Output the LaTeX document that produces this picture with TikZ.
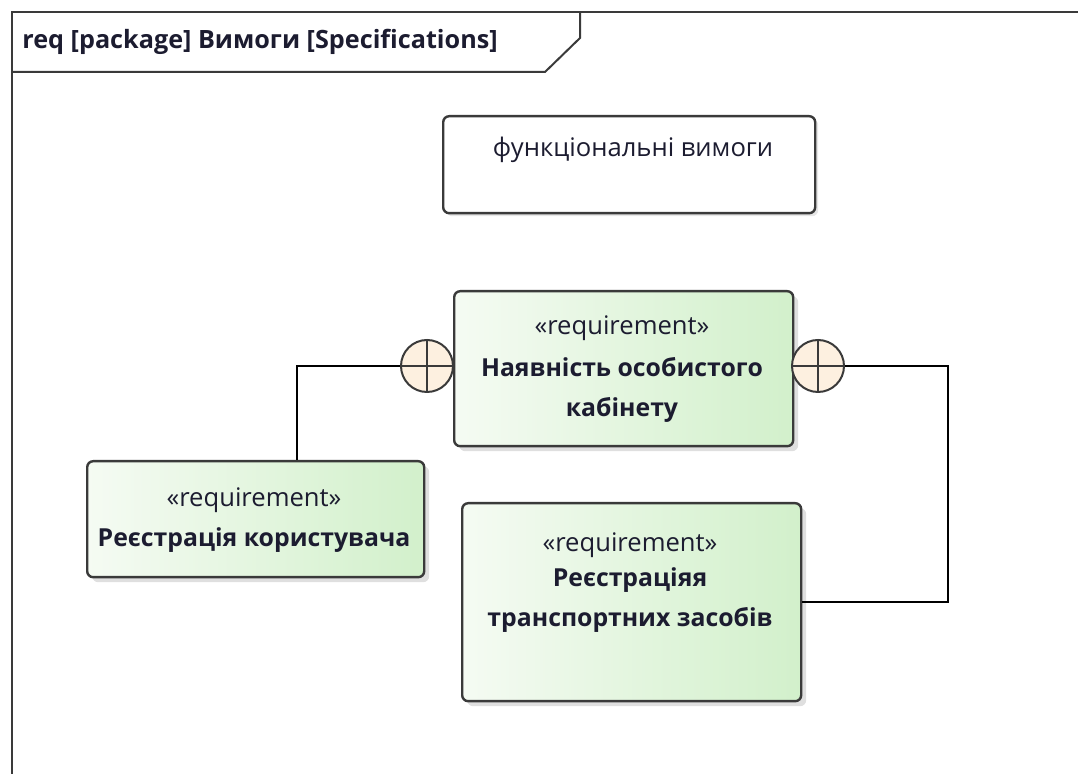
\documentclass[tikz,border=0pt]{standalone}
\usepackage{fontspec}
\setmainfont{Open Sans}
\usetikzlibrary{shadows,calc}
\definecolor{framecol}{HTML}{3A3A3A}
\definecolor{reqleft}{HTML}{F5FBF3}
\definecolor{reqright}{HTML}{D2F0CB}
\definecolor{circfill}{HTML}{FDF0E0}
\definecolor{txt}{HTML}{1C1C30}
\begin{document}
\begin{tikzpicture}[x=0.5pt,y=-0.5pt,
  frameline/.style={draw=framecol, line width=1pt},
  reqbox/.style={draw=framecol, line width=1.2pt, rounded corners=3pt,
    left color=reqleft, right color=reqright, shading angle=90,
    drop shadow={shadow xshift=2.5pt, shadow yshift=-2.5pt, opacity=0.25, fill=gray},
    anchor=north west, inner sep=0pt},
  plainbox/.style={draw=framecol, line width=1.2pt, rounded corners=3pt, fill=white,
    drop shadow={shadow xshift=1.5pt, shadow yshift=-1.5pt, opacity=0.2, fill=gray},
    anchor=north west, inner sep=0pt},
  stereo/.style={text=txt, font=\fontsize{12.8pt}{15pt}\selectfont, inner sep=0pt},
  reqname/.style={text=txt, font=\fontsize{12.4pt}{20pt}\selectfont\bfseries, align=center, inner sep=0pt},
  joint/.style={circle, draw=framecol, line width=1pt, fill=circfill, minimum size=26pt, inner sep=0pt},
  link/.style={draw=black, line width=1pt}
]
\useasboundingbox (0,0) rectangle (1078,774);
% frame
\draw[frameline] (12,774) -- (12,12) -- (1078,12);
\draw[frameline] (12,72) -- (545,72) -- (580,38) -- (580,12);
\node[anchor=west, text=txt, font=\fontsize{12.6pt}{15pt}\selectfont\bfseries, inner sep=0pt] (title) at (22,42) {req [package] Вимоги [Specifications]};

% boxes
\node[plainbox, minimum width=186pt, minimum height=48.5pt] (func) at (442,115) {};
\node[text=txt, font=\fontsize{12.8pt}{15pt}\selectfont, inner sep=0pt] (functxt) at (633,150) {функціональні вимоги};

\node[reqbox, minimum width=169.5pt, minimum height=77.5pt] (cab) at (453,290) {};
\node[stereo] (cabst) at (622,328) {«requirement»};
\node[reqname] (cabname) at (622,390) {Наявність особистого\\кабінету};

\node[reqbox, minimum width=168.5pt, minimum height=58pt] (user) at (86,460) {};
\node[stereo] (userst) at (254,500) {«requirement»};
\node[reqname] (username) at (254,540) {Реєстрація користувача};

\node[reqbox, minimum width=169.5pt, minimum height=99pt] (trans) at (461,502) {};
\node[stereo] (transst) at (630,545) {«requirement»};
\node[reqname] (transname) at (630,600) {Реєстраціяя\\транспортних засобів};

% containment joints
\node[joint] (cl) at (427,366) {};
\draw[framecol, line width=1pt] (cl.north) -- (cl.south) (cl.west) -- (cl.east);
\node[joint] (cr) at (818,366) {};
\draw[framecol, line width=1pt] (cr.north) -- (cr.south) (cr.west) -- (cr.east);

% connectors
\coordinate (ux) at (297,0);
\coordinate (xr) at (948,0);
\draw[link] (cl.west) -| (ux |- user.north);
\draw[link] (cr.east) -- (xr |- cr.east) -- (xr |- trans.east) -- (trans.east);
\end{tikzpicture}
\end{document}
